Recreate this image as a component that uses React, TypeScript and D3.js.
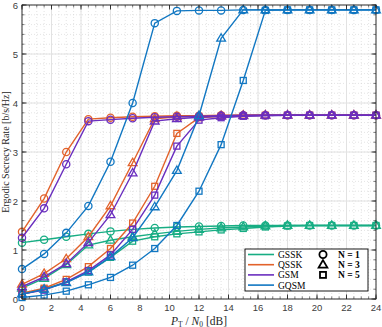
import React from "react";
import * as d3 from "d3";

const snr = [0, 1.5, 3, 4.5, 6, 7.5, 9, 10.5, 12, 13.5, 15, 16.5, 18, 19.5, 21, 22.5, 24];

const gsskN1 = [1.15, 1.21, 1.27, 1.33, 1.38, 1.42, 1.45, 1.47, 1.48, 1.49, 1.5, 1.5, 1.5, 1.5, 1.5, 1.5, 1.5];
const gsskN3 = [0.22, 0.42, 0.7, 1.1, 1.2, 1.27, 1.33, 1.38, 1.42, 1.45, 1.47, 1.49, 1.5, 1.5, 1.5, 1.5, 1.5];
const gsskN5 = [0.1, 0.2, 0.35, 0.55, 0.85, 1.18, 1.27, 1.33, 1.37, 1.41, 1.44, 1.47, 1.49, 1.5, 1.5, 1.5, 1.5];
const qsskN1 = [1.37, 2.05, 3.0, 3.67, 3.7, 3.72, 3.73, 3.74, 3.74, 3.75, 3.75, 3.75, 3.75, 3.75, 3.75, 3.75, 3.75];
const qsskN3 = [0.3, 0.52, 0.82, 1.27, 1.9, 2.78, 3.68, 3.72, 3.73, 3.74, 3.75, 3.75, 3.75, 3.75, 3.75, 3.75, 3.75];
const qsskN5 = [0.12, 0.22, 0.4, 0.66, 1.03, 1.55, 2.3, 3.38, 3.7, 3.73, 3.74, 3.75, 3.75, 3.75, 3.75, 3.75, 3.75];
const gsmN1 = [1.25, 1.85, 2.75, 3.63, 3.66, 3.69, 3.71, 3.72, 3.73, 3.74, 3.75, 3.75, 3.75, 3.75, 3.75, 3.75, 3.75];
const gsmN3 = [0.25, 0.45, 0.72, 1.15, 1.72, 2.57, 3.63, 3.68, 3.71, 3.73, 3.74, 3.75, 3.75, 3.75, 3.75, 3.75, 3.75];
const gsmN5 = [0.1, 0.18, 0.35, 0.58, 0.9, 1.42, 2.12, 3.12, 3.65, 3.7, 3.73, 3.74, 3.75, 3.75, 3.75, 3.75, 3.75];
const gqsmN1 = [0.61, 0.92, 1.35, 1.9, 2.8, 4.0, 5.63, 5.88, 5.89, 5.89, 5.9, 5.9, 5.9, 5.9, 5.9, 5.9, 5.9];
const gqsmN3 = [0.1, 0.2, 0.33, 0.55, 0.86, 1.25, 1.88, 2.62, 3.74, 5.32, 5.9, 5.9, 5.9, 5.9, 5.9, 5.9, 5.9];
const gqsmN5 = [0.03, 0.08, 0.16, 0.29, 0.44, 0.69, 1.03, 1.5, 2.2, 3.15, 4.46, 5.89, 5.9, 5.9, 5.9, 5.9, 5.9];

const schemes = ["GSSK", "QSSK", "GSM", "GQSM"];
const schemeColors = ["#17ad83", "#e2622b", "#6a2ebf", "#1177c2"];
const antennaLabels = ["N = 1", "N = 3", "N = 5"];
const markerKinds = ["circle", "triangle", "square"];

const xTicks = [0, 2, 4, 6, 8, 10, 12, 14, 16, 18, 20, 22, 24];
const yTicks = [0, 1, 2, 3, 4, 5, 6];

const seriesTable = [
  [gsskN1, gsskN3, gsskN5],
  [qsskN1, qsskN3, qsskN5],
  [gsmN1, gsmN3, gsmN5],
  [gqsmN1, gqsmN3, gqsmN5],
];

function Marker({ kind, x, y, color, sw = 1.3 }: { kind: string; x: number; y: number; color: string; sw?: number }) {
  if (kind === "circle") return <circle cx={x} cy={y} r={3.6} fill="none" stroke={color} strokeWidth={sw} />;
  if (kind === "triangle") {
    const s = 4.6;
    return (
      <path
        d={`M${x},${y - s} L${x + s * 0.95},${y + s * 0.62} L${x - s * 0.95},${y + s * 0.62} Z`}
        fill="none"
        stroke={color}
        strokeWidth={sw}
        strokeLinejoin="miter"
      />
    );
  }
  return <rect x={x - 3} y={y - 3} width={6} height={6} fill="none" stroke={color} strokeWidth={sw} />;
}

export default function App() {
  const W = 382, H = 327;
  const L = 22, R = 376, T = 5, B = 299;
  const x = d3.scaleLinear().domain([0, 24]).range([L, R]);
  const y = d3.scaleLinear().domain([0, 6]).range([B, T]);
  const line = d3.line<number>().x((_, i) => x(snr[i])).y((d) => y(d));

  const xMinor = d3.range(0, 24.001, 0.5);
  const yMinor = d3.range(0, 6.001, 0.2);
  const tickFont = "'Liberation Sans', Arial, sans-serif";
  const serif = "'Liberation Serif', 'DejaVu Serif', serif";

  return (
    <svg width={W} height={H} style={{ position: "absolute", left: 0, top: 0 }}>
      <rect x={0} y={0} width={W} height={H} fill="#fff" />
      {/* minor grid */}
      {xMinor.map((v) => (
        <line key={"xm" + v} x1={x(v)} x2={x(v)} y1={T} y2={B} stroke="#d2d2d2" strokeWidth={0.6} strokeDasharray="1,2" />
      ))}
      {yMinor.map((v) => (
        <line key={"ym" + v} x1={L} x2={R} y1={y(v)} y2={y(v)} stroke="#d2d2d2" strokeWidth={0.6} strokeDasharray="1,2" />
      ))}
      {/* major grid */}
      {xTicks.map((v) => (
        <line key={"xg" + v} x1={x(v)} x2={x(v)} y1={T} y2={B} stroke="#e2e2e2" strokeWidth={1} />
      ))}
      {yTicks.map((v) => (
        <line key={"yg" + v} x1={L} x2={R} y1={y(v)} y2={y(v)} stroke="#e2e2e2" strokeWidth={1} />
      ))}

      {/* series */}
      {seriesTable.map((group, si) =>
        group.map((vals, ni) => (
          <g key={`s${si}-${ni}`}>
            <path d={line(vals) || ""} fill="none" stroke={schemeColors[si]} strokeWidth={1.4} />
            {vals.map((v, i) => (
              <Marker key={i} kind={markerKinds[ni]} x={x(snr[i])} y={y(v)} color={schemeColors[si]} />
            ))}
          </g>
        ))
      )}

      {/* axes box */}
      <rect x={L} y={T} width={R - L} height={B - T} fill="none" stroke="#262626" strokeWidth={0.9} />
      {xMinor.map((v) => (
        <g key={"xmt" + v}>
          <line x1={x(v)} x2={x(v)} y1={B} y2={B - 2.5} stroke="#262626" strokeWidth={0.6} />
          <line x1={x(v)} x2={x(v)} y1={T} y2={T + 2.5} stroke="#262626" strokeWidth={0.6} />
        </g>
      ))}
      {yMinor.map((v) => (
        <g key={"ymt" + v}>
          <line x1={L} x2={L + 2.5} y1={y(v)} y2={y(v)} stroke="#262626" strokeWidth={0.6} />
          <line x1={R} x2={R - 2.5} y1={y(v)} y2={y(v)} stroke="#262626" strokeWidth={0.6} />
        </g>
      ))}
      {xTicks.map((v) => (
        <g key={"xt" + v}>
          <line x1={x(v)} x2={x(v)} y1={B} y2={B - 4.5} stroke="#262626" strokeWidth={0.9} />
          <line x1={x(v)} x2={x(v)} y1={T} y2={T + 4.5} stroke="#262626" strokeWidth={0.9} />
          <text x={x(v)} y={B + 12} textAnchor="middle" fontFamily={tickFont} fontSize={9.5} fill="#404040">
            {v}
          </text>
        </g>
      ))}
      {yTicks.map((v) => (
        <g key={"yt" + v}>
          <line x1={L} x2={L + 4.5} y1={y(v)} y2={y(v)} stroke="#262626" strokeWidth={0.9} />
          <line x1={R} x2={R - 4.5} y1={y(v)} y2={y(v)} stroke="#262626" strokeWidth={0.9} />
          <text x={L - 4} y={y(v) + 3.5} textAnchor="end" fontFamily={tickFont} fontSize={9.5} fill="#404040">
            {v}
          </text>
        </g>
      ))}

      {/* axis labels */}
      <text
        transform={`translate(9,${(T + B) / 2}) rotate(-90)`}
        textAnchor="middle"
        fontFamily={serif}
        fontSize={10}
        fill="#262626"
      >
        Ergodic Secrecy Rate [b/s/Hz]
      </text>
      <text x={(L + R) / 2} y={324.5} textAnchor="middle" fontFamily={serif} fontSize={11.5} fill="#262626">
        <tspan fontStyle="italic">P</tspan>
        <tspan fontSize={7.5} dy={2}>T</tspan>
        <tspan dy={-2}> / </tspan>
        <tspan fontStyle="italic">N</tspan>
        <tspan fontSize={7.5} dy={2}>0</tspan>
        <tspan dy={-2}> [dB]</tspan>
      </text>

      {/* legend */}
      <g>
        <rect x={245} y={249} width={123} height={42} fill="#fff" stroke="#000" strokeWidth={0.9} />
        {schemes.map((s, i) => (
          <g key={s}>
            <line x1={248} x2={274} y1={254.5 + i * 10.2} y2={254.5 + i * 10.2} stroke={schemeColors[i]} strokeWidth={1.6} />
            <text x={278} y={258 + i * 10.2} fontFamily={serif} fontSize={9.5} fill="#000">
              {s}
            </text>
          </g>
        ))}
        {antennaLabels.map((lab, i) => (
          <g key={lab}>
            <Marker kind={markerKinds[i]} x={323} y={254.5 + i * 10.2} color="#000" sw={1.8} />
            <text x={338} y={258 + i * 10.2} fontFamily={serif} fontSize={9.5} fontWeight="bold" fill="#000">
              {lab}
            </text>
          </g>
        ))}
      </g>
    </svg>
  );
}
